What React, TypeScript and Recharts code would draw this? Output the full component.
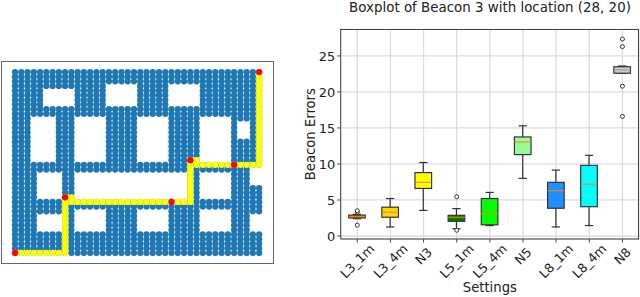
import React from 'react';
import { ComposedChart, ScatterChart, Scatter, Bar, Line, XAxis, YAxis, CartesianGrid } from 'recharts';

// left panel: grid occupancy, top row is j = 39, '#' means a blue dot
const gridRows = [
    '########################################',
    '########################################',
    '########################################',
    '###############.....#####.....##########',
    '#####.....#####.....#####.....##########',
    '#####.....#####.....#####.....##########',
    '#####.....#####.....#####.....##########',
    '#####.....#####.....#####.....##########',
    '########################################',
    '########################################',
    '###....###.....#####.....#####.....#####',
    '###....###.....#####.....#####.....#..##',
    '###....###.....#####.....#####.....#..##',
    '###....###.....#####.....#####.....#..##',
    '###....###.....#####.....#####.....#..##',
    '###....###.....#####.....#####.....#####',
    '###....###.....#####.....#####.....#####',
    '###....###.....#####.....#####.....#####',
    '###....###.....#####.....#####.....#####',
    '###....###.....#####.....#####.....#####',
    '########################################',
    '######################################..',
    '####....##..................##.....###..',
    '####....##..................##.....###..',
    '####....##..................##.....###..',
    '####....##..................##.....#####',
    '####....##..................##.....#####',
    '####....##..................##.....#####',
    '########################################',
    '########################################',
    '##########.....#####.....#####.....#####',
    '####....##.....#####.....#####.....###..',
    '####....##.....#####.....#####.....###..',
    '####....##.....#####.....#####.....###..',
    '####....##.....#####.....#####.....###..',
    '########################################',
    '########################################',
    '########################################',
    '########################################',
    '########################################',
];

const pathI = [
    0, 1, 2, 3, 4, 5, 6, 7, 8,
    8, 8, 8, 8, 8, 8, 8, 8, 8, 8, 8, 8,
    9, 9,
    10, 11, 12, 13, 14, 15, 16, 17, 18, 19, 20, 21, 22, 23, 24, 25, 26, 27, 28,
    28, 28, 28, 28, 28, 28, 28, 28, 28,
    29, 29,
    30, 31, 32, 33, 34, 35, 36, 37, 38, 39,
    39, 39, 39, 39, 39, 39, 39, 39, 39, 39, 39, 39, 39, 39, 39, 39, 39, 39, 39, 39,
];
const pathJ = [
    0, 0, 0, 0, 0, 0, 0, 0, 0,
    1, 2, 3, 4, 5, 6, 7, 8, 9, 10, 11, 12,
    12, 11,
    11, 11, 11, 11, 11, 11, 11, 11, 11, 11, 11, 11, 11, 11, 11, 11, 11, 11, 11,
    12, 13, 14, 15, 16, 17, 18, 19, 20,
    20, 19,
    19, 19, 19, 19, 19, 19, 19, 19, 19, 19,
    20, 21, 22, 23, 24, 25, 26, 27, 28, 29, 30, 31, 32, 33, 34, 35, 36, 37, 38, 39,
];
const waypointI = [0, 8, 25, 28, 35, 39];
const waypointJ = [0, 12, 11, 20, 19, 39];

// right panel: boxplot
const settings = ['L3_1m', 'L3_4m', 'N3', 'L5_1m', 'L5_4m', 'N5', 'L8_1m', 'L8_4m', 'N8'];
const whiskerLow = [2.4, 1.25, 3.55, 1.0, 1.45, 8.0, 1.25, 1.45, 22.6];
const q1 = [2.5, 2.6, 6.6, 2.04, 1.55, 11.3, 3.85, 4.07, 22.6];
const median = [2.7, 3.3, 7.45, 2.6, 3.1, 13.05, 6.3, 7.2, 23.05];
const q3 = [2.9, 4.0, 8.8, 2.87, 5.2, 13.75, 7.45, 9.8, 23.5];
const whiskerHigh = [3.0, 5.2, 10.2, 3.8, 6.05, 15.3, 9.15, 11.2, 23.6];
const outliers: number[][] = [[1.5, 3.3, 3.5], [], [], [0.8, 5.45], [], [], [], [], [16.6, 20.8, 26.3, 27.35]];
const boxColors = ['#ff8c00', '#ffd700', '#ffff00', '#008000', '#00ff00', '#98fb98', '#1e90ff', '#00ffff', '#add8e6'];
const yTicks = [0, 5, 10, 15, 20, 25];

const FONT = '"DejaVu Sans", sans-serif';

const gridDots = gridRows.flatMap((row, r) =>
    row.split('').flatMap((c, i) => (c === '#' ? [{ x: i, y: 39 - r }] : []))
);
const pathDots = pathI.map((x, n) => ({ x, y: pathJ[n] }));
const waypoints = waypointI.map((x, n) => ({ x, y: waypointJ[n] }));

const boxData = settings.map((name, n) => ({
    name,
    low: whiskerLow[n],
    q1: q1[n],
    median: median[n],
    q3: q3[n],
    high: whiskerHigh[n],
    color: boxColors[n],
    o1: outliers[n][0] ?? null,
    o2: outliers[n][1] ?? null,
    o3: outliers[n][2] ?? null,
    o4: outliers[n][3] ?? null,
}));

const dotShape = (fill: string) => (props: any) => <circle cx={props.cx} cy={props.cy} r={3.15} fill={fill} />;

const BoxShape = (props: any) => {
    const { x, y, width, height, payload } = props;
    const scale = Math.abs(height) / (payload.high - payload.low);
    const py = (v: number) => y + (payload.high - v) * scale;
    const cx = x + width / 2;
    const cap = width / 4;
    const dark = '#333';
    return (
        <g>
            <line x1={cx} x2={cx} y1={py(payload.high)} y2={py(payload.low)} stroke={dark} strokeWidth={1.2} />
            <line x1={cx - cap} x2={cx + cap} y1={py(payload.high)} y2={py(payload.high)} stroke={dark} strokeWidth={1.2} />
            <line x1={cx - cap} x2={cx + cap} y1={py(payload.low)} y2={py(payload.low)} stroke={dark} strokeWidth={1.2} />
            <rect x={x} y={py(payload.q3)} width={width} height={py(payload.q1) - py(payload.q3)} fill={payload.color} stroke={dark} strokeWidth={1.2} />
            <line x1={x} x2={x + width} y1={py(payload.median)} y2={py(payload.median)} stroke="#ff7f0e" strokeWidth={1} />
        </g>
    );
};

const SettingTick = (props: any) => {
    const { x, payload } = props;
    const cy = payload.value.length > 2 ? 261 : 256;
    return (
        <text x={x} y={cy} transform={`rotate(-45 ${x} ${cy})`} textAnchor="middle" dominantBaseline="central" fontSize={12.6} fontFamily={FONT} fill="#222">
            {payload.value}
        </text>
    );
};

const App: React.FC = () => (
    <div style={{ position: 'absolute', left: 0, top: 0, width: 640, height: 297, background: '#fff', overflow: 'hidden' }}>
        {/* path map */}
        <div style={{ position: 'absolute', left: 1, top: 61, width: 273, height: 203, border: '1px solid #666', boxSizing: 'border-box' }} />
        <div style={{ position: 'absolute', left: 1, top: 61 }}>
            <ScatterChart width={273} height={203} margin={{ top: 0, right: 0, bottom: 0, left: 0 }}>
                <XAxis type="number" dataKey="x" domain={[-2.24, 41.37]} hide />
                <YAxis type="number" dataKey="y" domain={[-2.37, 41.38]} hide />
                <Scatter data={gridDots} shape={dotShape('#1f77b4')} isAnimationActive={false} />
                <Scatter data={pathDots} shape={dotShape('#ffff00')} isAnimationActive={false} />
                <Scatter data={waypoints} shape={dotShape('#ff0000')} isAnimationActive={false} />
            </ScatterChart>
        </div>

        {/* boxplot */}
        <div style={{ position: 'absolute', left: 340, top: 0, width: 300, textAlign: 'center', fontFamily: FONT, fontSize: 13.4, lineHeight: '15px', color: '#222', whiteSpace: 'nowrap' }}>
            Boxplot of Beacon 3 with location (28, 20)
        </div>
        <div style={{ position: 'absolute', left: 0, top: 0 }}>
            <ComposedChart width={640} height={297} data={boxData} margin={{ top: 29.3, right: 1, bottom: 18, left: 310.7 }}>
                <CartesianGrid stroke="#dcdcdc" strokeWidth={1.3} />
                <XAxis
                    dataKey="name"
                    height={40}
                    tick={<SettingTick />}
                    tickSize={3.5}
                    interval={0}
                    stroke="#444"
                    label={{ value: 'Settings', position: 'insideBottom', offset: -13, fontSize: 13.2, fontFamily: FONT, fill: '#222' }}
                />
                <YAxis
                    type="number"
                    domain={[-0.42, 28.7]}
                    ticks={yTicks}
                    width={30}
                    tickSize={3.5}
                    stroke="#444"
                    tick={{ fontSize: 13, fontFamily: FONT, fill: '#222' }}
                    label={{ value: 'Beacon Errors', angle: -90, position: 'insideLeft', offset: 0, fontSize: 13.2, fontFamily: FONT, fill: '#222', style: { textAnchor: 'middle' } }}
                />
                <Bar dataKey={(d: any) => [d.low, d.high]} barSize={16.6} shape={<BoxShape />} isAnimationActive={false} legendType="none" />
                {['o1', 'o2', 'o3', 'o4'].map(key => (
                    <Line
                        key={key}
                        dataKey={key}
                        stroke="none"
                        dot={{ r: 2, fill: '#fff', stroke: '#333', strokeWidth: 1 }}
                        activeDot={false}
                        isAnimationActive={false}
                        legendType="none"
                    />
                ))}
            </ComposedChart>
        </div>
        {/* top and right spines of the boxplot */}
        <div style={{ position: 'absolute', left: 340, top: 29, width: 299, height: 210, borderTop: '1px solid #444', borderRight: '1px solid #444', boxSizing: 'border-box', pointerEvents: 'none' }} />
    </div>
);

export default App;
